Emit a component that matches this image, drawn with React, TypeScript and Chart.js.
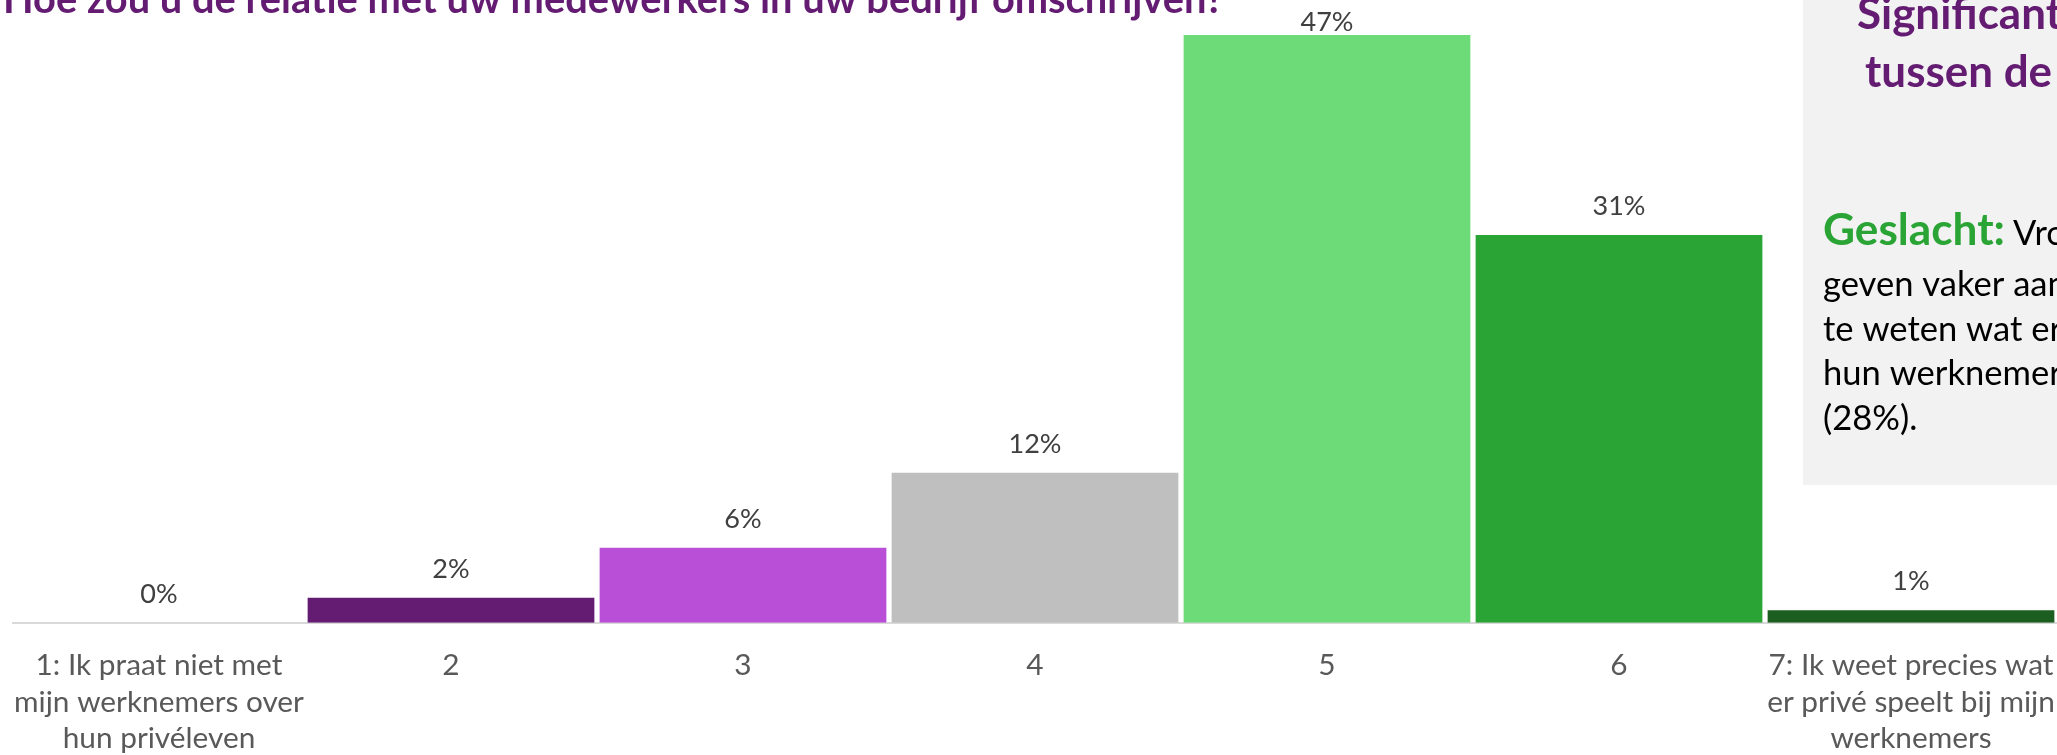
import React, { useEffect, useRef } from "react";
import { Chart, registerables } from "chart.js";

Chart.register(...registerables);

const categories: string[][] = [
  ["1: Ik praat niet met", "mijn werknemers over", "hun privéleven"],
  ["2"],
  ["3"],
  ["4"],
  ["5"],
  ["6"],
  ["7: Ik weet precies wat", "er privé speelt bij mijn", "werknemers"],
];
const values: number[] = [0, 2, 6, 12, 47, 31, 1];
const barColors: string[] = ["#4a1456", "#641c73", "#b94fd6", "#bfbfbf", "#6edb79", "#2aa435", "#1b5e20"];

const titleText = "Hoe zou u de relatie met uw medewerkers in uw bedrijf omschrijven?";
const boxHeading: string[] = ["Significante", "tussen de"];
const boxLead = "Geslacht:";
const boxLines: string[] = ["Vrouwen", "geven vaker aan", "te weten wat er", "hun werknemers", "(28%)."];

const FONT = "Lato, 'Open Sans', sans-serif";
const PURPLE = "#641c73";
const GREEN = "#2aa435";

function fitSize(text: string, target: number, weight: string): number {
  const c = document.createElement("canvas").getContext("2d") as CanvasRenderingContext2D;
  c.font = `${weight} 100px ${FONT}`;
  return (100 * target) / c.measureText(text).width;
}

export default function App() {
  const canvasRef = useRef<HTMLCanvasElement | null>(null);

  useEffect(() => {
    const canvas = canvasRef.current;
    if (!canvas) return;

    const catSize = (fitSize("mijn werknemers over", 295, "normal") + fitSize("7: Ik weet precies wat", 280, "normal")) / 2;
    const valSize = fitSize("47%", 53, "normal");
    const titleSize = fitSize(titleText, 1221, "bold");
    const headSize = fitSize("Significan", 189, "bold");
    const leadSize = fitSize(boxLead, 182, "bold");
    const bodySize = (fitSize("(28%).", 93, "normal") + fitSize("geven vaker aa", 228, "normal")) / 2;

    const lineH = 36.7;
    const tickPad = 33.65 - 0.3225 * catSize;
    canvas.width = 2057;
    canvas.height = Math.round(623 + 3 * lineH + 2 * tickPad);

    const overlayPlugin = {
      id: "overlay",
      beforeDraw(chart: any) {
        const { ctx } = chart;
        ctx.save();
        ctx.fillStyle = "#f2f2f2";
        ctx.fillRect(1803, 0, 260, 485);
        ctx.restore();
      },
      afterDraw(chart: any) {
        const { ctx } = chart;
        ctx.save();
        ctx.textBaseline = "alphabetic";
        ctx.textAlign = "left";
        ctx.font = `bold ${titleSize}px ${FONT}`;
        ctx.fillStyle = PURPLE;
        ctx.fillText(titleText, 3, 13);
        ctx.font = `bold ${headSize}px ${FONT}`;
        ctx.fillText(boxHeading[0], 1857, 29);
        ctx.fillText(boxHeading[1], 1865, 87);
        ctx.font = `bold ${leadSize}px ${FONT}`;
        ctx.fillStyle = GREEN;
        ctx.fillText(boxLead, 1823, 245);
        const leadW = ctx.measureText(boxLead).width;
        ctx.font = `${bodySize}px ${FONT}`;
        ctx.fillStyle = "#000000";
        ctx.fillText(boxLines[0], 1823 + leadW + 8, 245);
        const baselines = [296, 341, 385, 430];
        for (let i = 1; i < boxLines.length; i++) {
          ctx.fillText(boxLines[i], 1823, baselines[i - 1]);
        }
        ctx.restore();
      },
    };

    const valueLabelPlugin = {
      id: "valueLabels",
      afterDatasetsDraw(chart: any) {
        const { ctx, chartArea } = chart;
        const meta = chart.getDatasetMeta(0);
        ctx.save();
        ctx.font = `${valSize}px ${FONT}`;
        ctx.fillStyle = "#404040";
        ctx.textAlign = "center";
        ctx.textBaseline = "alphabetic";
        meta.data.forEach((bar: any, i: number) => {
          const y = Math.max(bar.y - 20, chartArea.top + 31);
          ctx.fillText(`${values[i]}%`, bar.x, y);
        });
        ctx.restore();
      },
    };

    const chart = new Chart(canvas, {
      type: "bar",
      data: {
        labels: categories,
        datasets: [
          {
            data: values,
            backgroundColor: barColors,
            borderWidth: 0,
            barPercentage: 0.982,
            categoryPercentage: 1,
          },
        ],
      },
      options: {
        responsive: false,
        animation: false,
        devicePixelRatio: 1,
        layout: { padding: { left: 13, right: 0, top: 0, bottom: 0 } },
        plugins: {
          legend: { display: false },
          title: { display: false },
          tooltip: { enabled: false },
        },
        scales: {
          x: {
            grid: { display: false, drawTicks: false, tickLength: 0 },
            border: { display: true, color: "#d9d9d9", width: 2 },
            ticks: {
              color: "#595959",
              font: { family: FONT, size: catSize, lineHeight: `${lineH}px` },
              padding: tickPad,
              maxRotation: 0,
              minRotation: 0,
              autoSkip: false,
            },
            afterFit(scale: any) {
              scale.paddingLeft = 0;
              scale.paddingRight = 0;
            },
          },
          y: {
            display: false,
            min: 0,
            max: 49.8,
          },
        },
      },
      plugins: [overlayPlugin, valueLabelPlugin],
    });
    return () => chart.destroy();
  }, []);

  return (
    <div
      style={{
        position: "fixed",
        left: 0,
        top: 0,
        width: "100vw",
        height: "100vh",
        overflow: "hidden",
        background: "#ffffff",
      }}
    >
      <canvas ref={canvasRef} width={2057} height={783} style={{ display: "block" }} />
    </div>
  );
}
